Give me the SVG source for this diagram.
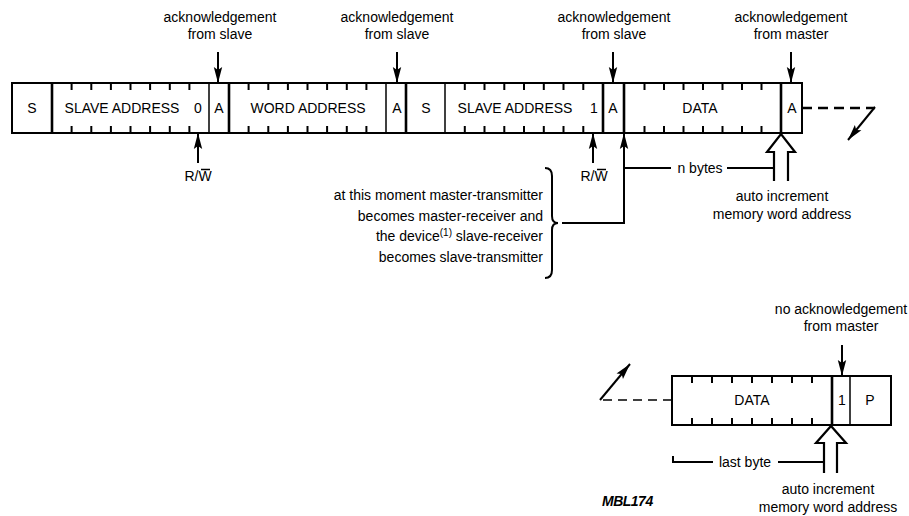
<svg xmlns="http://www.w3.org/2000/svg" width="909" height="516" viewBox="0 0 909 516">
<style>
text{font-family:"Liberation Sans",Arial,sans-serif;font-size:14px;fill:#000}
.c{text-anchor:middle}
.r{text-anchor:end}
.box{fill:#fff;stroke:#000;stroke-width:2}
.thk{stroke:#000;stroke-width:2.6}
.thn{stroke:#000;stroke-width:1.5}
.tick{fill:none;stroke:#000;stroke-width:2}
.ln{fill:none;stroke:#000;stroke-width:2}
.dash{fill:none;stroke:#000;stroke-width:2.4;stroke-dasharray:10 6}
.dash2{fill:none;stroke:#000;stroke-width:1.6;stroke-dasharray:9 6}
.hollow{fill:#fff;stroke:#000;stroke-width:2.2;stroke-linejoin:miter}
</style>
<defs>
<marker id="ah" markerUnits="userSpaceOnUse" markerWidth="17" markerHeight="10" refX="16" refY="5" orient="auto">
<path d="M0,0.8 L16,5 L0,9.2 L3,5 z" fill="#000"/>
</marker>
</defs>
<rect width="909" height="516" fill="#fff"/>

<!-- top frame -->
<g id="frame-top">
<rect class="box" x="12" y="83" width="790" height="50"/>
<line class="thk" x1="52" y1="83" x2="52" y2="133"/>
<line class="thn" x1="209" y1="83" x2="209" y2="133"/>
<line class="thk" x1="229" y1="83" x2="229" y2="133"/>
<line class="thn" x1="386" y1="83" x2="386" y2="133"/>
<line class="thk" x1="406" y1="83" x2="406" y2="133"/>
<line class="thn" x1="445" y1="83" x2="445" y2="133"/>
<line class="thk" x1="603" y1="83" x2="603" y2="133"/>
<line class="thk" x1="624" y1="83" x2="624" y2="133"/>
<line class="thk" x1="781" y1="83" x2="781" y2="133"/>
</g>
<g id="start1"><text class="c" x="32" y="113">S</text></g>
<g id="slave-address-1">
<path class="tick" d="M71.6,83v7M91.3,83v7M110.9,83v7M130.5,83v7M150.1,83v7M169.8,83v7M189.4,83v7M71.6,133v-7M91.3,133v-7M110.9,133v-7M130.5,133v-7M150.1,133v-7M169.8,133v-7M189.4,133v-7"/>
<text class="c" x="122" y="113">SLAVE ADDRESS</text>
<text class="c" x="198" y="113">0</text>
</g>
<g id="ack1"><text class="c" x="219" y="113">A</text></g>
<g id="word-address">
<path class="tick" d="M248.6,83v7M268.3,83v7M287.9,83v7M307.5,83v7M327.1,83v7M346.8,83v7M366.4,83v7M248.6,133v-7M268.3,133v-7M287.9,133v-7M307.5,133v-7M327.1,133v-7M346.8,133v-7M366.4,133v-7"/>
<text class="c" x="308" y="113">WORD ADDRESS</text>
</g>
<g id="ack2"><text class="c" x="397" y="113">A</text></g>
<g id="start2"><text class="c" x="426" y="113">S</text></g>
<g id="slave-address-2">
<path class="tick" d="M464.8,83v7M484.5,83v7M504.3,83v7M524,83v7M543.8,83v7M563.5,83v7M583.3,83v7M464.8,133v-7M484.5,133v-7M504.3,133v-7M524,133v-7M543.8,133v-7M563.5,133v-7M583.3,133v-7"/>
<text class="c" x="515" y="113">SLAVE ADDRESS</text>
<text class="c" x="594" y="113">1</text>
</g>
<g id="ack3"><text class="c" x="613" y="113">A</text></g>
<g id="data1">
<path class="tick" d="M644.5,83v7M664,83v7M683.5,83v7M703,83v7M722.5,83v7M742,83v7M761.5,83v7M644.5,133v-7M664,133v-7M683.5,133v-7M703,133v-7M722.5,133v-7M742,133v-7M761.5,133v-7"/>
<text class="c" x="700" y="113">DATA</text>
</g>
<g id="ack4"><text class="c" x="792" y="113">A</text></g>

<!-- bottom frame -->
<g id="frame-bottom">
<rect class="box" x="672" y="376" width="219" height="49"/>
<line class="thk" x1="832" y1="376" x2="832" y2="425"/>
<line class="thn" x1="850" y1="376" x2="850" y2="425"/>
</g>
<g id="data2">
<path class="tick" d="M692,376v7M712,376v7M732,376v7M752,376v7M772,376v7M792,376v7M812,376v7M692,425v-7M712,425v-7M732,425v-7M752,425v-7M772,425v-7M792,425v-7M812,425v-7"/>
<text class="c" x="752" y="405">DATA</text>
</g>
<g id="noack"><text class="c" x="842" y="405">1</text></g>
<g id="stop"><text class="c" x="870" y="405">P</text></g>

<!-- labels -->
<g id="label-ack1"><text class="c" x="220" y="22">acknowledgement</text><text class="c" x="220" y="39">from slave</text></g>
<g id="label-ack2"><text class="c" x="397" y="22">acknowledgement</text><text class="c" x="397" y="39">from slave</text></g>
<g id="label-ack3"><text class="c" x="614" y="22">acknowledgement</text><text class="c" x="614" y="39">from slave</text></g>
<g id="label-ack4"><text class="c" x="791" y="22">acknowledgement</text><text class="c" x="791" y="39">from master</text></g>
<g id="label-rw1"><text class="c" x="198" y="181">R/W</text><line class="thn" x1="201" y1="169.5" x2="210" y2="169.5" stroke-width="1.2"/></g>
<g id="label-rw2"><text class="c" x="594" y="181">R/W</text><line class="thn" x1="597" y1="169.5" x2="606" y2="169.5" stroke-width="1.2"/></g>
<g id="label-nbytes"><text class="c" x="700" y="173">n bytes</text></g>
<g id="label-auto1"><text class="c" x="782" y="201">auto increment</text><text class="c" x="782" y="219">memory word address</text></g>
<g id="label-moment">
<text class="r" x="543" y="200">at this moment master-transmitter</text>
<text class="r" x="543" y="221">becomes master-receiver and</text>
<text class="r" x="543" y="241">the device<tspan font-size="10" dy="-5">(1)</tspan><tspan dy="5"> slave-receiver</tspan></text>
<text class="r" x="543" y="262">becomes slave-transmitter</text>
</g>
<g id="label-noack"><text class="c" x="841" y="314">no acknowledgement</text><text class="c" x="841" y="331">from master</text></g>
<g id="label-lastbyte"><text class="c" x="745" y="467">last byte</text></g>
<g id="label-auto2"><text class="c" x="828" y="494">auto increment</text><text class="c" x="828" y="512">memory word address</text></g>
<g id="label-ref"><text x="602" y="506" font-size="9" font-style="italic" font-weight="bold" letter-spacing="-0.5">MBL174</text></g>

<!-- connectors -->
<g id="connectors">
<line class="ln" x1="218" y1="52" x2="218" y2="83" marker-end="url(#ah)"/>
<line class="ln" x1="397" y1="52" x2="397" y2="83" marker-end="url(#ah)"/>
<line class="ln" x1="613" y1="52" x2="613" y2="83" marker-end="url(#ah)"/>
<line class="ln" x1="791" y1="52" x2="791" y2="83" marker-end="url(#ah)"/>
<line class="ln" x1="198" y1="163" x2="198" y2="133" marker-end="url(#ah)"/>
<line class="ln" x1="593" y1="163" x2="593" y2="133" marker-end="url(#ah)"/>
<path class="ln" d="M562,223 H624 V133" marker-end="url(#ah)"/>
<path class="ln" d="M545,168 Q552,168 552,176 V216 Q552,223 558,223 Q552,223 552,230 V270 Q552,278 545,278"/>
<path class="ln" d="M624,168 H671 M727,168 H774"/>
<path class="hollow" d="M774,181 V152 H767 L781,134 L795,152 H788 V181" fill="none"/>
<line class="dash" x1="802" y1="108" x2="875" y2="108"/>
<line class="ln" x1="875" y1="107" x2="848" y2="140" marker-end="url(#ah)"/>
<line class="ln" x1="842" y1="345" x2="842" y2="376" marker-end="url(#ah)"/>
<line class="dash2" x1="672" y1="400" x2="600" y2="400"/>
<line class="ln" x1="600" y1="400" x2="630" y2="364" marker-end="url(#ah)"/>
<path class="hollow" d="M824,473 V443 H816 L831,426 L846,443 H837 V473" fill="none"/>
<path class="ln" d="M673,456 V462 H713 M778,462 H824" stroke-width="1.5"/>
</g>
</svg>
